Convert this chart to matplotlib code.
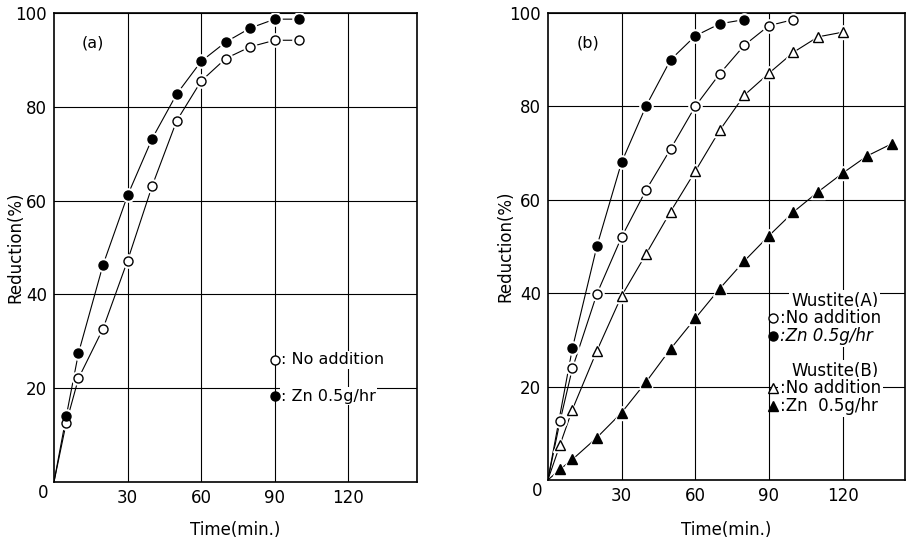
import matplotlib
matplotlib.use('Agg')
import matplotlib.pyplot as plt

# panel (a)
time_a = [5, 10, 20, 30, 40, 50, 60, 70, 80, 90, 100]
a_no_add = [12.6, 22.1, 32.7, 47.2, 63.1, 77.0, 85.5, 90.3, 92.8, 94.2, 94.2]
a_zn = [14.0, 27.5, 46.3, 61.1, 73.2, 82.7, 89.7, 93.8, 96.8, 98.7, 98.7]

# panel (b)
time_b_a_zn = [10, 20, 30, 40, 50, 60, 70, 80]
b_a_zn = [28.2, 50.1, 68.0, 80.1, 90.0, 95.1, 97.7, 98.6]
time_b_a_no = [5, 10, 20, 30, 40, 50, 60, 70, 80, 90, 100]
b_a_no = [12.7, 23.9, 39.9, 52.0, 62.1, 70.9, 80.0, 87.0, 93.1, 97.3, 98.6]
time_b_b_no = [5, 10, 20, 30, 40, 50, 60, 70, 80, 90, 100, 110, 120]
b_b_no = [7.6, 15.1, 27.7, 39.4, 48.4, 57.5, 66.1, 74.9, 82.4, 87.1, 91.6, 94.9, 95.9]
time_b_b_zn = [5, 10, 20, 30, 40, 50, 60, 70, 80, 90, 100, 110, 120, 130, 140]
b_b_zn = [2.3, 4.4, 9.1, 14.4, 21.0, 28.1, 34.6, 41.0, 46.9, 52.3, 57.4, 61.7, 65.7, 69.4, 72.0]

x_ticks = [30, 60, 90, 120]
y_ticks = [20, 40, 60, 80, 100]

plt.rcParams['font.family'] = 'DejaVu Sans'
tick_font = ['Liberation Sans Narrow', 'DejaVu Sans']


def curve(ax, t, r, marker, filled, ms=6.5):
    # line from the origin through the points
    ax.plot([0] + t, [0] + r, color='black', lw=0.8, zorder=3)
    ax.plot(t, r, linestyle='none', marker=marker, ms=ms + 3, mfc='white',
            mec='white', zorder=4)
    ax.plot(t, r, linestyle='none', marker=marker, ms=ms,
            mfc='black' if filled else 'white', mec='black', mew=1.0, zorder=5)


def setup(ax, xmax, ylab_x, xlab_y):
    ax.set_xlim(0, xmax)
    ax.set_ylim(0, 100)
    ax.set_xticks(x_ticks)
    ax.set_yticks(y_ticks)
    ax.grid(True, color='black', lw=0.8)
    ax.set_axisbelow(True)
    ax.tick_params(length=0, pad=5)
    for lab in ax.get_xticklabels() + ax.get_yticklabels():
        lab.set_family(tick_font)
        lab.set_fontsize(12)
    for s in ax.spines.values():
        s.set_linewidth(1.2)
    ax.text(-4.5, -2.4, '0', ha='center', va='center', fontsize=12, family=tick_font)
    ax.set_xlabel('Time(min.)', fontsize=12, va='center')
    ax.set_ylabel('Reduction(%)', fontsize=12, va='center')
    ax.yaxis.set_label_coords(ylab_x, 0.5)
    ax.xaxis.set_label_coords(0.5, xlab_y)


fig = plt.figure(figsize=(9.07, 5.44), dpi=100)
ax1 = fig.add_axes([0.0595, 0.114, 0.4003, 0.862])
ax2 = fig.add_axes([0.604, 0.1176, 0.394, 0.8584])

setup(ax1, 148, -0.107, -0.102)
curve(ax1, time_a, a_no_add, 'o', False)
curve(ax1, time_a, a_zn, 'o', True)
ax1.text(16, 93.7, '(a)', fontsize=11.5, ha='center', va='center')
ax1.plot([90], [26.1], marker='o', ms=6.5, mfc='white', mec='black', ls='none', zorder=7)
ax1.plot([90], [18.3], marker='o', ms=6.5, mfc='black', mec='black', ls='none', zorder=7)
ax1.text(92.6, 26.1, ': No addition', fontsize=11.5, va='center',
         bbox=dict(fc='white', ec='none', pad=1), zorder=6)
ax1.text(92.6, 18.3, ': Zn 0.5g/hr', fontsize=11.5, va='center',
         bbox=dict(fc='white', ec='none', pad=1), zorder=6)

setup(ax2, 145.5, -0.12, -0.107)
curve(ax2, time_b_b_zn, b_b_zn, '^', True, ms=7)
curve(ax2, time_b_b_no, b_b_no, '^', False, ms=7)
curve(ax2, time_b_a_zn, b_a_zn, 'o', True)
curve(ax2, time_b_a_no, b_a_no, 'o', False)
ax2.text(16.3, 93.6, '(b)', fontsize=11.5, ha='center', va='center')

leg_x = 91.7
rows = [
    (38.4, 'Wustite(A)', None, None, 'normal'),
    (34.6, ':No addition', 'o', False, 'normal'),
    (30.9, ':Zn 0.5g/hr', 'o', True, 'italic'),
    (23.4, 'Wustite(B)', None, None, 'normal'),
    (19.6, ':No addition', '^', False, 'normal'),
    (15.9, ':Zn  0.5g/hr', '^', True, 'normal'),
]
for y, label, mk, filled, style in rows:
    if mk is None:
        ax2.text(116.8, y, label, fontsize=12, ha='center', va='center',
                 bbox=dict(fc='white', ec='none', pad=1.5), zorder=6)
    else:
        ax2.plot([leg_x], [y], marker=mk, ms=6.5, mfc='black' if filled else 'white',
                 mec='black', ls='none', zorder=7)
        ax2.text(leg_x + 2.8, y, label, fontsize=12, va='center', style=style,
                 bbox=dict(fc='white', ec='none', pad=1.5), zorder=6)

fig.savefig('out.png', dpi=100)
